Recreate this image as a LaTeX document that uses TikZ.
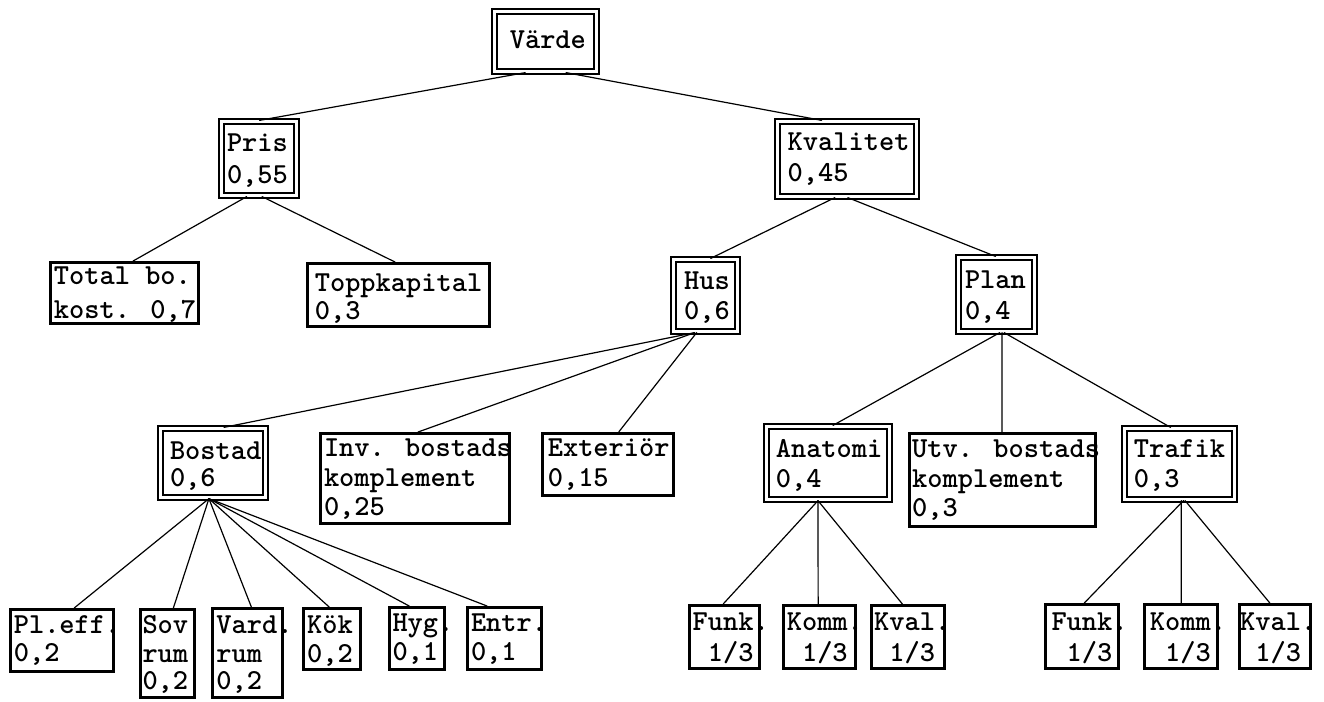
\documentclass[tikz,border=0pt]{standalone}
\usetikzlibrary{calc}
\tikzset{
  conn/.style={line width=1.2pt, line cap=round},
  sbox/.style={draw, line width=2.6pt, inner sep=0pt},
  dbox/.style={draw, line width=2.1pt, double, double distance=2.6pt, inner sep=0pt},
  txt/.style={anchor=north west, inner sep=0pt, outer sep=0pt, align=left,
    yshift=20.65pt, font=\ttfamily\bfseries\fontsize{29}{29.5}\selectfont},
}
% single box: name, x1, y1, x2, y2 (outer edges, pixels)
\newcommand\sbx[5]{\node[sbox, minimum width={(#4-#2-2.6)*1pt}, minimum height={(#5-#3-2.6)*1pt}] (#1) at ({(#2+#4)/2},{(#3+#5)/2}) {};}
% double box
\newcommand\dbx[5]{\node[dbox, minimum width={(#4-#2-6.8)*1pt}, minimum height={(#5-#3-6.8)*1pt}] (#1) at ({(#2+#4)/2},{(#3+#5)/2}) {};}
\begin{document}
\begin{tikzpicture}[x=1pt,y=-1pt]
\useasboundingbox (0,0) rectangle (1324,701);

% ---- boxes ----
\dbx{varde}{491}{8}{600}{75}
\dbx{pris}{218}{118}{300}{199}
\dbx{kval}{774}{118}{920}{200}
\sbx{total}{49}{261}{200}{325}
\sbx{topp}{306}{262}{491}{328}
\dbx{hus}{670}{256}{741}{335}
\dbx{plan}{955}{254}{1038}{335}
\dbx{bostad}{157}{425}{269}{501}
\sbx{inv}{319}{432}{511}{525}
\sbx{ext}{541}{432}{675}{497}
\dbx{anat}{763}{423}{893}{503}
\sbx{utv}{908}{432}{1097}{528}
\dbx{traf}{1121}{425}{1238}{503}
\sbx{pleff}{9}{608}{115}{673}
\sbx{sov}{139}{608}{196}{699}
\sbx{vard}{211}{607}{284}{699}
\sbx{kok}{302}{607}{362}{671}
\sbx{hyg}{388}{606}{446}{671}
\sbx{entr}{466}{606}{543}{671}
\sbx{funkA}{688}{604}{761}{670}
\sbx{kommA}{782}{604}{857}{670}
\sbx{kvalA}{870}{604}{946}{670}
\sbx{funkB}{1044}{603}{1120}{670}
\sbx{kommB}{1143}{603}{1219}{670}
\sbx{kvalB}{1238}{603}{1312}{670}

% ---- texts (x = left of first letter, y = first baseline) ----
\node[txt] (tvarde) at (509.8,48.3) {\strut Värde};
\node[txt] (tpris) at (227,151.7) {\strut Pris\\[2.5pt]0,55};
\node[txt] (tkval) at (787.7,150) {\strut Kvalitet\\[2.2pt]0,45};
\node[txt] (ttotal) at (53.9,284.7) {\strut Total bo.\\[3.8pt]kost. 0,7};
\node[txt] (ttopp) at (314.8,291.3) {\strut Toppkapital\\[-1pt]0,3};
\node[txt] (thus) at (684.2,289.7) {\strut Hus\\0,6};
\node[txt] (tplan) at (965,288) {\strut Plan\\[1.5pt]0,4};
\node[txt] (tbostad) at (170,459.7) {\strut Bostad\\[-3pt]0,6};
\node[txt] (tinv) at (324,456.7) {\strut Inv. bostads\\komplement\\0,25};
\node[txt] (text) at (547.8,456.7) {\strut Exteriör\\0,15};
\node[txt] (tanat) at (775.8,457.7) {\strut Anatomi\\0,4};
\node[txt] (tutv) at (912.2,457.7) {\strut Utv. bostads\\komplement\\0,3};
\node[txt] (ttraf) at (1133.8,457.7) {\strut Trafik\\0,3};
\node[txt] (tpleff) at (13.8,633.3) {\strut Pl.eff.\\[-1pt]0,2};
\node[txt] (tsov) at (142.5,633.3) {\strut Sov\\rum\\[-3pt]0,2};
\node[txt] (tvard) at (216.4,633.3) {\strut Vard.\\rum\\[-3pt]0,2};
\node[txt] (tkok) at (307.2,633.3) {\strut Kök\\0,2};
\node[txt] (thyg) at (392.5,631) {\strut Hyg.\\0,1};
\node[txt] (tentr) at (471,631) {\strut Entr.\\0,1};
\node[txt] (tfunkA) at (692.7,630) {\strut Funk.\\[2pt]~1/3};
\node[txt] (tkommA) at (786.8,630) {\strut Komm.\\[2pt]~1/3};
\node[txt] (tkvalA) at (874.2,630) {\strut Kval.\\[2pt]~1/3};
\node[txt] (tfunkB) at (1051.5,630) {\strut Funk.\\[2pt]~1/3};
\node[txt] (tkommB) at (1149.9,630) {\strut Komm.\\[2pt]~1/3};
\node[txt] (tkvalB) at (1240.2,630) {\strut Kval.\\[2pt]~1/3};

% ---- connectors ----
\draw[conn] ($(varde.south west)!0.305!(varde.south east)$) -- ($(pris.north west)!0.508!(pris.north east)$);
\draw[conn] ($(varde.south west)!0.698!(varde.south east)$) -- ($(kval.north west)!0.32!(kval.north east)$);
\draw[conn] ($(pris.south west)!0.34!(pris.south east)$) -- ($(total.north west)!0.557!(total.north east)$);
\draw[conn] ($(pris.south west)!0.54!(pris.south east)$) -- ($(topp.north west)!0.481!(topp.north east)$);
\draw[conn] ($(kval.south west)!0.414!(kval.south east)$) -- ($(hus.north west)!0.579!(hus.north east)$);
\draw[conn] ($(kval.south west)!0.506!(kval.south east)$) -- ($(plan.north west)!0.487!(plan.north east)$);
\draw[conn] ($(hus.south west)!0.335!(hus.south east)$) -- ($(bostad.north west)!0.603!(bostad.north east)$);
\draw[conn] ($(hus.south west)!0.335!(hus.south east)$) -- ($(inv.north west)!0.516!(inv.north east)$);
\draw[conn] ($(hus.south west)!0.366!(hus.south east)$) -- ($(ext.north west)!0.58!(ext.north east)$);
\draw[conn] ($(plan.south west)!0.542!(plan.south east)$) -- ($(anat.north west)!0.54!(anat.north east)$);
\draw[conn] ($(plan.south west)!0.571!(plan.south east)$) -- ($(utv.north west)!0.497!(utv.north east)$);
\draw[conn] ($(plan.south west)!0.598!(plan.south east)$) -- ($(traf.north west)!0.42!(traf.north east)$);
\draw[conn] ($(bostad.south west)!0.462!(bostad.south east)$) -- ($(pleff.north west)!0.615!(pleff.north east)$);
\draw[conn] ($(bostad.south west)!0.462!(bostad.south east)$) -- ($(sov.north west)!0.603!(sov.north east)$);
\draw[conn] ($(bostad.south west)!0.462!(bostad.south east)$) -- ($(vard.north west)!0.553!(vard.north east)$);
\draw[conn] ($(bostad.south west)!0.462!(bostad.south east)$) -- ($(kok.north west)!0.453!(kok.north east)$);
\draw[conn] ($(bostad.south west)!0.462!(bostad.south east)$) -- ($(hyg.north west)!0.365!(hyg.north east)$);
\draw[conn] ($(bostad.south west)!0.462!(bostad.south east)$) -- ($(entr.north west)!0.273!(entr.north east)$);
\draw[conn] ($(anat.south west)!0.42!(anat.south east)$) -- ($(funkA.north west)!0.482!(funkA.north east)$);
\draw[conn] ($(anat.south west)!0.42!(anat.south east)$) -- ($(kommA.north west)!0.482!(kommA.north east)$);
\draw[conn] ($(anat.south west)!0.42!(anat.south east)$) -- ($(kvalA.north west)!0.426!(kvalA.north east)$);
\draw[conn] ($(traf.south west)!0.535!(traf.south east)$) -- ($(funkB.north west)!0.53!(funkB.north east)$);
\draw[conn] ($(traf.south west)!0.516!(traf.south east)$) -- ($(kommB.north west)!0.504!(kommB.north east)$);
\draw[conn] ($(traf.south west)!0.55!(traf.south east)$) -- ($(kvalB.north west)!0.43!(kvalB.north east)$);
\end{tikzpicture}
\end{document}
